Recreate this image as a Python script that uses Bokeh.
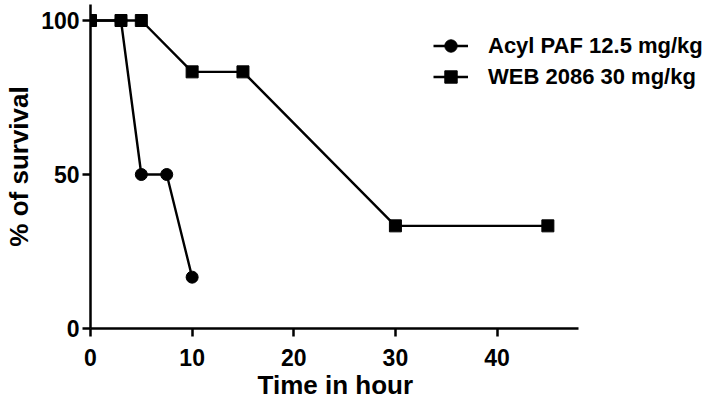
from bokeh.plotting import figure
from bokeh.models import Legend, LegendItem, Range1d, FixedTicker, Title
from bokeh.embed import file_html
from bokeh.resources import INLINE

# Data
acyl_label = "Acyl PAF 12.5 mg/kg"
acyl_time = [0, 3, 5, 7.5, 10]
acyl_surv = [100, 100, 50, 50, 16.67]

web_label = "WEB 2086 30 mg/kg"
web_time = [0, 3, 5, 10, 15, 30, 45]
web_surv = [100, 100, 100, 83.33, 83.33, 33.33, 33.33]

x_ticks = [0, 10, 20, 30, 40]
y_ticks = [0, 50, 100]
x_axis_end = 48

FONT = "Liberation Sans"

p = figure(width=711, height=402, output_backend="svg", toolbar_location=None,
           x_range=Range1d(0, 61.1), y_range=Range1d(0, 105.2),
           min_border_left=90, min_border_right=0, min_border_top=4,
           min_border_bottom=74)

p.outline_line_color = None
p.xgrid.visible = False
p.ygrid.visible = False
p.background_fill_color = "white"
p.border_fill_color = "white"

lw = 2.4
r1l = p.line(acyl_time, acyl_surv, line_color="black", line_width=lw)
r1m = p.scatter(acyl_time, acyl_surv, marker="circle", size=12, color="black")
r2l = p.line(web_time, web_surv, line_color="black", line_width=lw)
r2m = p.scatter(web_time, web_surv, marker="square", size=12, color="black")

for ax in (p.xaxis[0], p.yaxis[0]):
    ax.axis_line_width = 2.5
    ax.axis_line_color = "black"
    ax.major_tick_line_width = 2.5
    ax.major_tick_line_color = "black"
    ax.major_tick_out = 8
    ax.major_tick_in = 0
    ax.minor_tick_line_color = None
    ax.major_label_text_font = FONT
    ax.major_label_text_font_style = "bold"
    ax.major_label_text_font_size = "23px"
    ax.major_label_text_color = "black"
    ax.axis_label_text_font = FONT
    ax.axis_label_text_font_style = "bold"
    ax.axis_label_text_font_size = "26px"
    ax.axis_label_text_color = "black"

p.xaxis.bounds = (0, x_axis_end)
p.xaxis.ticker = FixedTicker(ticks=x_ticks)
p.yaxis.ticker = FixedTicker(ticks=y_ticks)
p.yaxis.axis_label = "% of survival"
p.xaxis.major_label_standoff = 12
p.yaxis.major_label_standoff = 3
p.yaxis.axis_label_standoff = 4

xtitle = Title(text="Time in hour", align="left", offset=167, standoff=2,
               vertical_align="top", text_font=FONT, text_font_style="bold",
               text_font_size="26px", text_color="black")
p.add_layout(xtitle, "below")

legend = Legend(items=[LegendItem(label=acyl_label, renderers=[r1l, r1m]),
                       LegendItem(label=web_label, renderers=[r2l, r2m])],
                location=(343, 236), orientation="vertical",
                glyph_width=35, glyph_height=31, label_height=31,
                label_standoff=20, spacing=0, padding=0, margin=0,
                border_line_color=None, background_fill_alpha=0,
                label_text_font=FONT, label_text_font_style="bold",
                label_text_font_size="22px", label_text_color="black")
p.add_layout(legend, "center")

open("out.html", "w").write(file_html(p, INLINE))
